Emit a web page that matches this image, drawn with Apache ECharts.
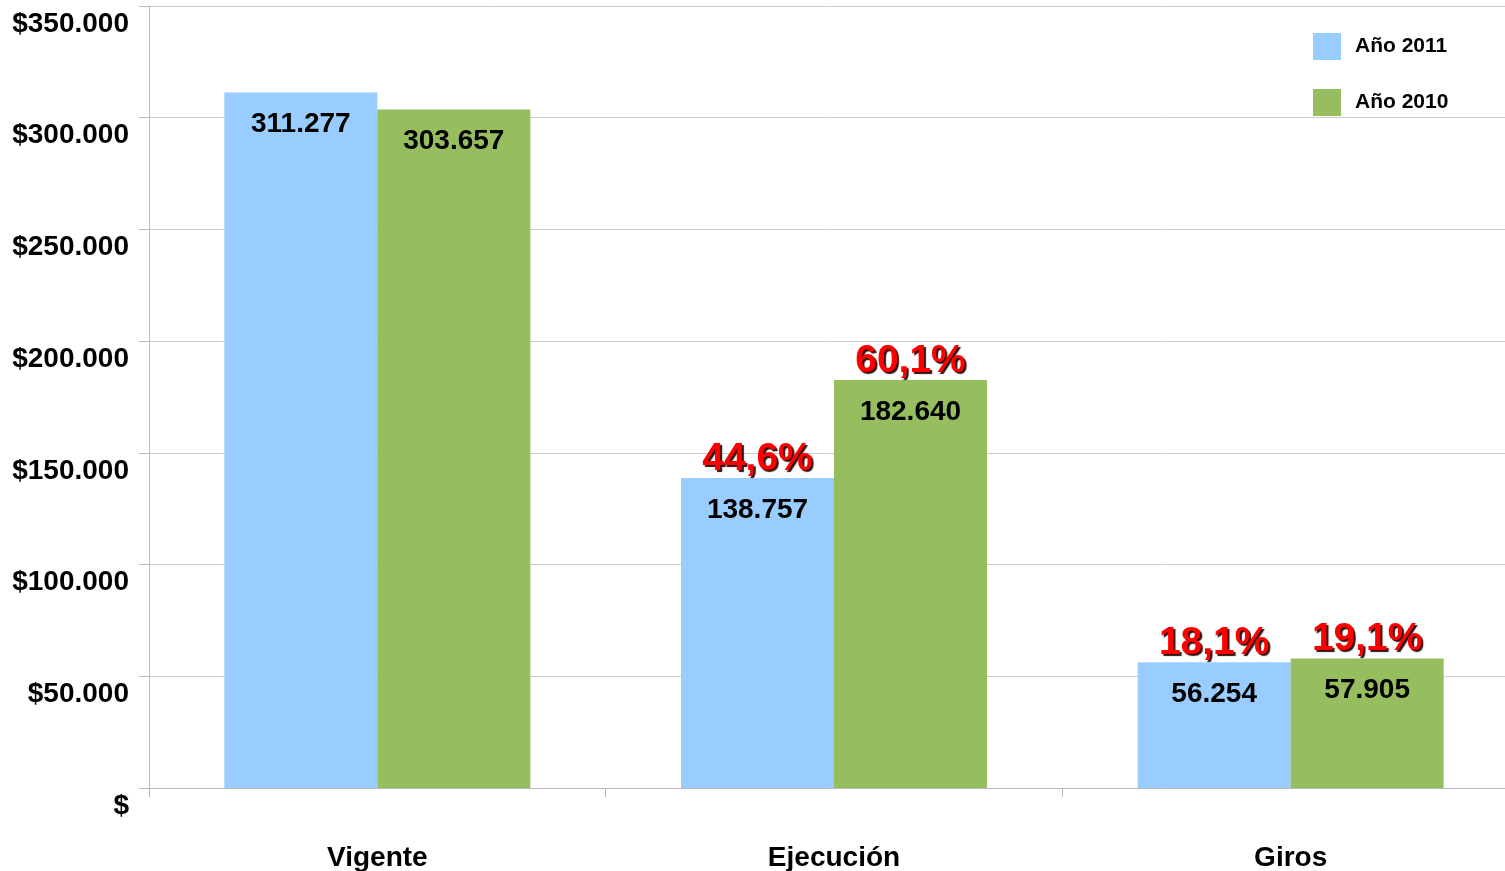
<!DOCTYPE html>
<html>
<head>
    <meta charset="utf-8">
    <title>Vigente - Ejecución - Giros</title>
    <script src="https://cdn.jsdelivr.net/npm/echarts@6/dist/echarts.min.js"></script>
    <style>
        html, body { margin: 0; padding: 0; background: #fff; }
        #main { width: 1505px; height: 871px; }
    </style>
</head>
<body>
    <div id="main"></div>
    <script type="text/javascript">
        // chart data
        var categories = ['Vigente', 'Ejecución', 'Giros'];
        var seriesNames = ['Año 2011', 'Año 2010'];
        var values2011 = [311277, 138757, 56254];
        var values2010 = [303657, 182640, 57905];
        var pct2011 = ['', '44,6%', '18,1%'];
        var pct2010 = ['', '60,1%', '19,1%'];

        var FONT = '"Liberation Sans", Arial, sans-serif';

        // 311277 -> 311.277
        function fmt(v) {
            return String(v).replace(/\B(?=(\d{3})+(?!\d))/g, '.');
        }

        function barLabel(pcts) {
            return {
                show: true,
                position: 'insideTop',
                distance: 16,
                offset: [0, -52],
                formatter: function (p) {
                    var pc = pcts[p.dataIndex] || ' ';
                    return '{p|' + pc + '}\n{v|' + fmt(p.value) + '}';
                },
                rich: {
                    p: {
                        fontFamily: FONT,
                        fontSize: 39,
                        fontWeight: 'bold',
                        color: '#ff0000',
                        lineHeight: 54,
                        padding: [0, 0, 20, 0],
                        textShadowColor: 'rgba(40,0,0,0.95)',
                        textShadowBlur: 1,
                        textShadowOffsetX: 2,
                        textShadowOffsetY: 2
                    },
                    v: {
                        fontFamily: FONT,
                        fontSize: 28,
                        fontWeight: 'bold',
                        color: '#000',
                        lineHeight: 28
                    }
                }
            };
        }

        var myChart = echarts.init(document.getElementById('main'));

        var option = {
            animation: false,
            backgroundColor: '#fff',
            textStyle: { fontFamily: FONT },
            grid: {
                left: 149,
                width: 1370,
                top: 6,
                bottom: 83,
                outerBoundsMode: 'none'
            },
            legend: {
                data: seriesNames,
                orient: 'vertical',
                left: 1313,
                top: 33,
                padding: 0,
                icon: 'rect',
                itemWidth: 28,
                itemHeight: 27,
                itemGap: 29,
                textStyle: {
                    fontFamily: FONT,
                    fontSize: 21,
                    fontWeight: 'bold',
                    color: '#000',
                    padding: [0, 0, 0, 9]
                }
            },
            xAxis: {
                type: 'category',
                data: categories,
                axisLine: { lineStyle: { color: '#bbbbbb', width: 1 } },
                axisTick: { show: true, length: 9, lineStyle: { color: '#bbbbbb' } },
                axisLabel: {
                    margin: 56,
                    fontFamily: FONT,
                    fontSize: 28,
                    fontWeight: 'bold',
                    color: '#000'
                }
            },
            yAxis: {
                type: 'value',
                min: 0,
                max: 350000,
                interval: 50000,
                axisLine: { show: true, lineStyle: { color: '#bbbbbb' } },
                axisTick: { show: true, length: 10, lineStyle: { color: '#bbbbbb' } },
                splitLine: { lineStyle: { color: '#cccccc' } },
                axisLabel: {
                    margin: 20,
                    fontFamily: FONT,
                    fontSize: 28,
                    fontWeight: 'bold',
                    color: '#000',
                    verticalAlign: 'top',
                    lineHeight: 28,
                    padding: [4, 0, 0, 0],
                    formatter: function (v) {
                        return v === 0 ? '$' : '$' + fmt(v);
                    }
                }
            },
            series: [{
                name: seriesNames[0],
                type: 'bar',
                data: values2011,
                barWidth: 153,
                barGap: '0%',
                itemStyle: { color: '#99ccff' },
                label: barLabel(pct2011)
            }, {
                name: seriesNames[1],
                type: 'bar',
                data: values2010,
                barWidth: 153,
                barGap: '0%',
                itemStyle: { color: '#96be5e' },
                label: barLabel(pct2010)
            }]
        };

        myChart.setOption(option);
    </script>
</body>
</html>
